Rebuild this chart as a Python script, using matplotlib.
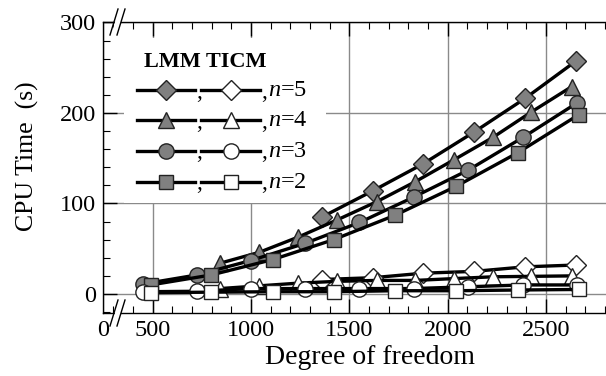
import matplotlib
matplotlib.use("Agg")
import matplotlib.pyplot as plt
from matplotlib.lines import Line2D
from matplotlib.patches import Rectangle, Polygon
from matplotlib.ticker import MultipleLocator

plt.rcParams['font.family'] = ['Liberation Serif', 'DejaVu Serif']
plt.rcParams['mathtext.fontset'] = 'custom'
plt.rcParams['mathtext.it'] = 'Liberation Serif:italic'
plt.rcParams['mathtext.rm'] = 'Liberation Serif'

# ---- data (degree of freedom vs CPU time in s) ----
x_n5 = [1361, 1620, 1877, 2135, 2393, 2650]
lmm_n5 = [85, 114, 144, 179, 216, 257]
ticm_n5 = [16, 18, 23, 25, 30, 32]

x_n4 = [843, 1042, 1242, 1440, 1640, 1835, 2030, 2230, 2425, 2630]
lmm_n4 = [34, 46, 63, 82, 102, 124, 148, 173, 201, 229]
ticm_n4 = [6, 9, 12, 14, 15, 15, 17, 19, 19.5, 20]

x_n3 = [450, 725, 1000, 1276, 1552, 1827, 2106, 2383, 2657]
lmm_n3 = [11, 21, 37, 56, 79, 107, 137, 173, 211]
ticm_n3 = [2.5, 3, 6, 6, 6, 6, 8, 10, 10]

x_n2 = [491, 798, 1111, 1420, 1733, 2044, 2356, 2666]
lmm_n2 = [10, 21, 38, 60, 87, 119, 156, 198]
ticm_n2 = [1.5, 2, 2.5, 2.5, 3.6, 3.6, 4.4, 5]

series_labels = ['5', '4', '3', '2']
series_markers = ['D', '^', 'o', 's']
x_ticks = [500, 1000, 1500, 2000, 2500]
y_ticks = [0, 100, 200, 300]

W, H = 606, 376
fig = plt.figure(figsize=(W / 100, H / 100), dpi=100)
L, R, T, B = 103, 606, 22, 313
ax = fig.add_axes([L / W, 1 - B / H, (R - L) / W, (B - T) / H])

GRAY = '#808080'
msize = {'D': 10, '^': 11, 'o': 11, 's': 10}
data = [(x_n5, lmm_n5, ticm_n5), (x_n4, lmm_n4, ticm_n4),
        (x_n3, lmm_n3, ticm_n3), (x_n2, lmm_n2, ticm_n2)]
for (xs, lmm, ticm), mk in zip(data, series_markers):
    ax.plot(xs, lmm, '-', color='black', lw=2.4, marker=mk, ms=msize[mk],
            mfc=GRAY, mec='#222222', mew=1.0, zorder=4)
    ax.plot(xs, ticm, '-', color='black', lw=2.4, marker=mk, ms=msize[mk],
            mfc='white', mec='#222222', mew=1.0, zorder=5)

xmin = 248.4
ax.set_xlim(xmin, 2805)
ax.set_ylim(-21, 300.5)
ax.set_xticks([xmin] + x_ticks)
ax.set_xticklabels(['0'] + [str(v) for v in x_ticks])
ax.set_yticks(y_ticks)
ax.xaxis.set_minor_locator(MultipleLocator(100))
ax.yaxis.set_minor_locator(MultipleLocator(20))
ax.tick_params(which='both', direction='in', top=True, bottom=True, left=True,
               right=False, labelsize=17.5, colors='black')
ax.tick_params(which='major', length=10, width=1, pad=5)
ax.tick_params(which='minor', length=5, width=0.8)
ax.xaxis.get_major_ticks()[0].tick1line.set_visible(False)
ax.xaxis.get_major_ticks()[0].tick2line.set_visible(False)
ax.spines['right'].set_visible(False)
for s in ['left', 'top', 'bottom']:
    ax.spines[s].set_linewidth(1.0)
ax.grid(True, which='major', color='#8a8a8a', lw=1.0)
ax.set_axisbelow(True)

ax.set_xlabel('Degree of freedom', fontsize=20)
ax.set_ylabel('CPU Time  (s)', fontsize=18.5)
ax.xaxis.set_label_coords((370 - L) / (R - L), -(357 - B) / (B - T))
ax.yaxis.set_label_coords(-(L - 27) / (R - L), (B - 156) / (B - T))
ax.xaxis.label.set_va('center')
ax.yaxis.label.set_va('center')

# ---- axis-break marks ----
def f(px, py):
    return (px / W, 1 - py / H)

for yb in (T, B):
    gap = Polygon([f(112, yb + 10), f(118, yb - 10), f(124, yb - 10), f(118, yb + 10)],
                  closed=True, transform=fig.transFigure, facecolor='white',
                  edgecolor='none', zorder=10)
    fig.add_artist(gap)
    for dx in (0, 7):
        fig.add_artist(Line2D([(110 + dx) / W, (118 + dx) / W],
                              [1 - (yb + 13) / H, 1 - (yb - 13) / H],
                              transform=fig.transFigure, color='black', lw=1.0, zorder=11))

# ---- legend (manual layout) ----
box = Rectangle(f(124, 203), (326 - 124) / W, (203 - 38) / H,
                transform=fig.transFigure, facecolor='white', edgecolor='none', zorder=6)
ax.add_patch(box)
ax.text(*f(205, 62), 'LMM TICM', transform=fig.transFigure, ha='center', va='center',
        fontsize=16, fontweight='bold', zorder=7)
rows_y = [90, 120, 151, 182]
for lab, mk, ry in zip(series_labels, series_markers, rows_y):
    for x0, x1, fc in ((137, 195, GRAY), (201, 260, 'white')):
        ln = Line2D([x0 / W, x1 / W], [1 - ry / H, 1 - ry / H], transform=fig.transFigure,
                    color='black', lw=2.4, zorder=7)
        ax.add_line(ln)
        mkln = Line2D([(x0 + x1) / 2 / W], [1 - ry / H], transform=fig.transFigure,
                      marker=mk, ms=msize[mk], mfc=fc, mec='#222222', mew=1.0,
                      linestyle='none', zorder=8)
        ax.add_line(mkln)
    ax.text(*f(196, ry + 2), ',', transform=fig.transFigure, ha='left', va='center',
            fontsize=17, zorder=8)
    ax.text(*f(261, ry + 2), ',', transform=fig.transFigure, ha='left', va='center',
            fontsize=17, zorder=8)
    ax.text(*f(268, ry), r'$\mathit{n}$=' + lab, transform=fig.transFigure,
            ha='left', va='center', fontsize=17.5, zorder=8)

fig.savefig('out.png', dpi=100)
